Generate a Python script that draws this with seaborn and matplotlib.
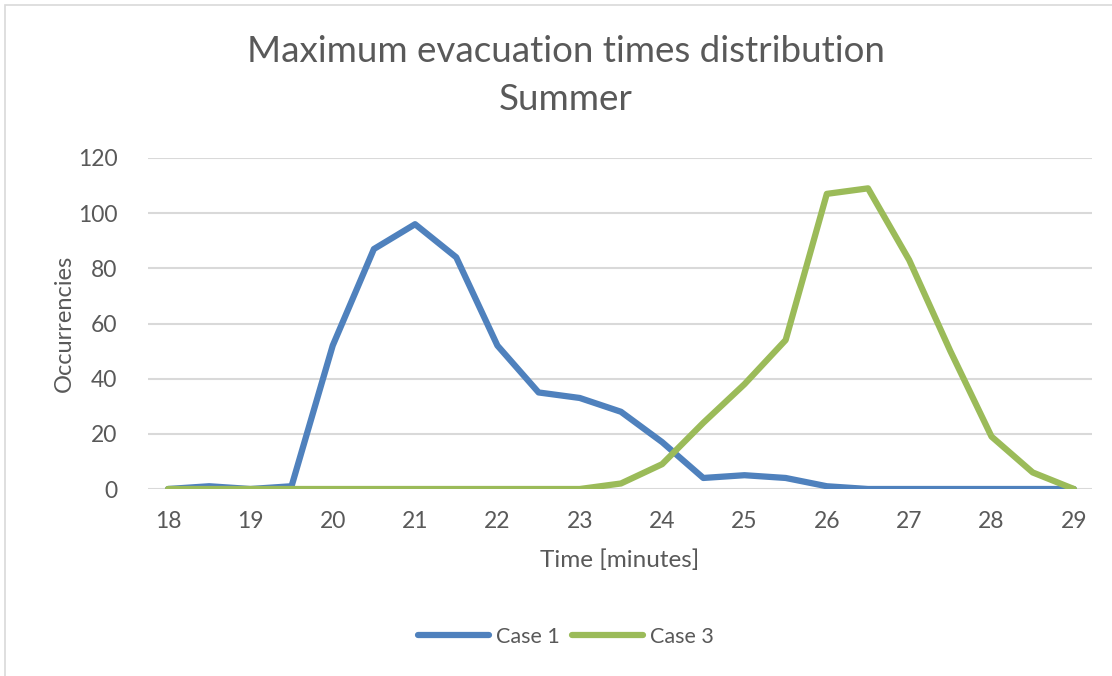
import matplotlib
matplotlib.use("Agg")
import matplotlib.pyplot as plt
import seaborn as sns
import pandas as pd
import numpy as np
from matplotlib.patches import Rectangle

time_min = [18, 18.5, 19, 19.5, 20, 20.5, 21, 21.5, 22, 22.5, 23, 23.5,
            24, 24.5, 25, 25.5, 26, 26.5, 27, 27.5, 28, 28.5, 29]
case1 = [0, 1, 0, 1, 52, 87, 96, 84, 52, 35, 33, 28,
         17, 4, 5, 4, 1, 0, 0, 0, 0, 0, 0]
case3 = [0, 0, 0, 0, 0, 0, 0, 0, 0, 0, 0, 2,
         9, 24, 38, 54, 107, 109, 83, 50, 19, 6, 0]
series_names = ["Case 1", "Case 3"]
colors = ["#4F81BD", "#9BBB59"]
x_ticks = [18, 19, 20, 21, 22, 23, 24, 25, 26, 27, 28, 29]
y_ticks = [0, 20, 40, 60, 80, 100, 120]

df = pd.DataFrame({
    "Time": time_min * 2,
    "Occ": case1 + case3,
    "Series": [series_names[0]] * len(time_min) + [series_names[1]] * len(time_min),
})

sns.set_theme(style="white")
plt.rcParams["font.family"] = ["Lato", "DejaVu Sans"]
text_color = "#595959"

fig = plt.figure(figsize=(11.12, 6.76), dpi=100)
ax = fig.add_axes([148 / 1112, 1 - 489 / 676, 944 / 1112, 331 / 676])

for y in y_ticks:
    ax.axhline(y, color="#d9d9d9", lw=1.5, zorder=0)

sns.lineplot(data=df, x="Time", y="Occ", hue="Series", palette=colors,
             linewidth=4.5, ax=ax, legend=True, zorder=3)

ax.set_xlim(17.757, 29.22)
ax.set_ylim(0, 120)
ax.set_xticks(x_ticks)
ax.set_yticks(y_ticks)
ax.tick_params(axis="both", length=0, labelsize=16.5, colors=text_color)
ax.tick_params(axis="x", pad=16)
ax.tick_params(axis="y", pad=22)
for s in ax.spines.values():
    s.set_visible(False)
ax.set_xlabel("Time [minutes]", fontsize=17.5, color=text_color, labelpad=12)
ax.set_ylabel("Occurrencies", fontsize=17, color=text_color, labelpad=2)

leg = ax.legend(loc="center", bbox_to_anchor=(566 / 1112, 1 - 637 / 676),
                bbox_transform=fig.transFigure, ncol=2, frameon=False,
                fontsize=15.5, handlelength=3.3, columnspacing=0.6, handletextpad=0.3)
for t in leg.get_texts():
    t.set_color(text_color)

fig.text(566 / 1112, 1 - 52 / 676, "Maximum evacuation times distribution",
         ha="center", va="center", fontsize=26.5, color=text_color)
fig.text(566 / 1112, 1 - 100 / 676, "Summer",
         ha="center", va="center", fontsize=26.5, color=text_color)

fig.patches.append(Rectangle((5 / 1112, -0.1), 1.2, 1 - 5 / 676 + 0.1,
                             transform=fig.transFigure, fill=False,
                             edgecolor="#d9d9d9", lw=1.2))

fig.savefig("out.png", dpi=100, facecolor="white")
